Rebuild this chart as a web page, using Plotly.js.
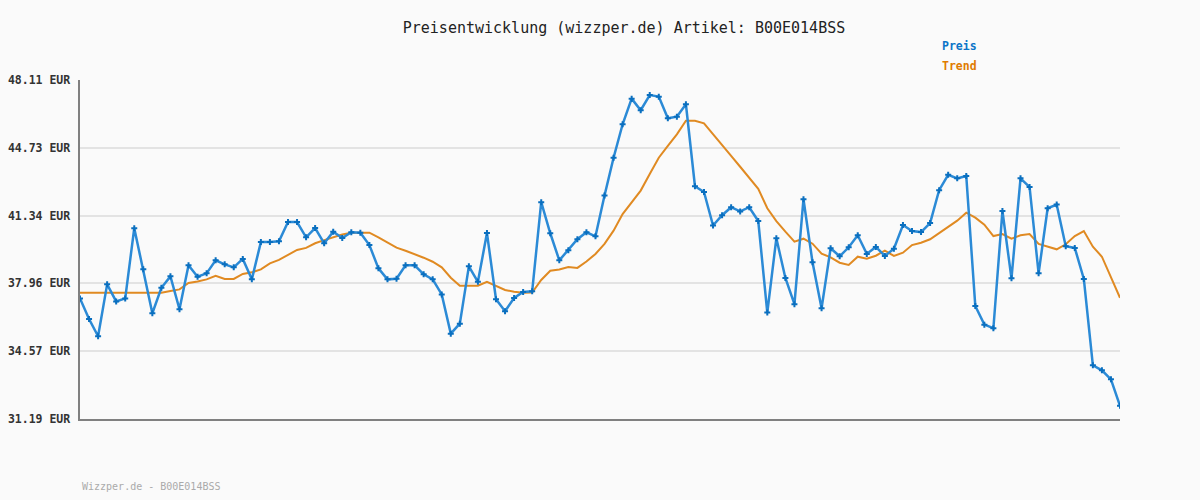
<!DOCTYPE html>
<html><head><meta charset="utf-8">
<script src="https://cdn.plot.ly/plotly-3.0.1.min.js"></script>
<style>html,body{margin:0;padding:0;background:#fafafa;}#chart{width:1200px;height:500px;}</style>
</head><body><div id="chart"></div>
<script>
var titleText = "Preisentwicklung (wizzper.de) Artikel: B00E014BSS";
var footerText = "Wizzper.de - B00E014BSS";
var tickValues = [31.19, 34.57, 37.96, 41.34, 44.73, 48.11];
var tickLabels = ["31.19 EUR", "34.57 EUR", "37.96 EUR", "41.34 EUR", "44.73 EUR", "48.11 EUR"];
var preis = [37.21,36.18,35.32,37.91,37.06,37.21,40.71,38.66,36.47,37.74,
38.31,36.67,38.86,38.29,38.46,39.11,38.91,38.76,39.18,38.16,
40.02,40.02,40.06,41.02,41.02,40.26,40.72,39.96,40.54,40.22,
40.51,40.49,39.87,38.71,38.16,38.19,38.86,38.86,38.41,38.16,
37.41,35.45,35.95,38.81,38.04,40.47,37.17,36.57,37.23,37.53,
37.56,42.01,40.46,39.11,39.61,40.16,40.51,40.31,42.34,44.23,
45.90,47.18,46.60,47.36,47.28,46.20,46.28,46.90,42.81,42.52,
40.85,41.36,41.76,41.55,41.76,41.07,36.50,40.21,38.23,36.92,
42.16,39.01,36.72,39.71,39.31,39.76,40.36,39.43,39.78,39.33,
39.69,40.87,40.57,40.52,40.97,42.61,43.38,43.20,43.32,36.83,
35.90,35.72,41.57,38.21,43.20,42.77,38.46,41.71,41.89,39.81,
39.73,38.18,33.87,33.62,33.17,31.85];
var trend = [37.49,37.49,37.49,37.49,37.49,37.49,37.49,37.49,37.49,37.49,
37.58,37.66,37.98,38.05,38.16,38.34,38.18,38.18,38.43,38.51,
38.66,38.96,39.13,39.38,39.63,39.73,39.96,40.12,40.26,40.40,
40.49,40.49,40.49,40.26,40.01,39.74,39.59,39.43,39.24,39.04,
38.76,38.24,37.84,37.84,37.84,38.04,37.84,37.63,37.54,37.49,
37.50,38.13,38.59,38.65,38.78,38.73,39.05,39.43,39.93,40.59,
41.42,41.99,42.59,43.42,44.23,44.82,45.40,46.08,46.08,45.95,
45.40,44.82,44.32,43.78,43.24,42.68,41.71,41.07,40.54,40.04,
40.19,39.94,39.44,39.26,38.99,38.88,39.29,39.19,39.34,39.59,
39.33,39.49,39.87,39.99,40.16,40.46,40.77,41.09,41.49,41.24,
40.89,40.32,40.42,40.19,40.36,40.42,39.93,39.79,39.66,39.91,
40.32,40.57,39.79,39.29,38.29,37.24];

var mono = "DejaVu Sans Mono, monospace";
var data = [
  {y: trend, type: "scatter", mode: "lines", name: "Trend",
   line: {color: "#e08a22", width: 2}, hoverinfo: "skip"},
  {y: preis, type: "scatter", mode: "lines+markers", name: "Preis",
   line: {color: "#2b8ad6", width: 2.5},
   marker: {symbol: "cross", size: 5, color: "#0a6fbf"}}
];
var layout = {
  width: 1200, height: 500,
  paper_bgcolor: "#fafafa", plot_bgcolor: "#fafafa",
  margin: {l: 80, r: 80, t: 80, b: 81, pad: 0},
  showlegend: false,
  title: {text: titleText, x: 0.52, xanchor: "center", y: 0.944, yanchor: "middle",
          font: {family: mono, size: 15, color: "#222"}},
  xaxis: {range: [0, preis.length - 1], showgrid: false, zeroline: false,
          showticklabels: false, ticks: "", showline: true, linecolor: "#808080", linewidth: 2,
          mirror: false},
  yaxis: {range: [31.19, 48.11], tickvals: tickValues, ticktext: tickLabels,
          showgrid: true, gridcolor: "#e3e3e3", gridwidth: 2, zeroline: false,
          showline: true, linecolor: "#808080", linewidth: 2.5, ticks: "",
          ticklabelstandoff: 5,
          tickfont: {family: mono, size: 11.5, color: "#333", weight: "bold"}},
  annotations: [
    {text: "Preis", xref: "paper", yref: "paper", x: 0.827, y: 1.1, xanchor: "left", yanchor: "middle",
     showarrow: false, font: {family: mono, size: 11.5, color: "#0a74c8", weight: "bold"}},
    {text: "Trend", xref: "paper", yref: "paper", x: 0.827, y: 1.041, xanchor: "left", yanchor: "middle",
     showarrow: false, font: {family: mono, size: 11.5, color: "#e07b00", weight: "bold"}},
    {text: footerText, xref: "paper", yref: "paper", x: 0, y: -0.2, xanchor: "left", yanchor: "middle",
     showarrow: false, font: {family: mono, size: 10, color: "#aaaaaa"}}
  ]
};
Plotly.newPlot("chart", data, layout, {displayModeBar: false, staticPlot: true});
</script>
</body></html>
